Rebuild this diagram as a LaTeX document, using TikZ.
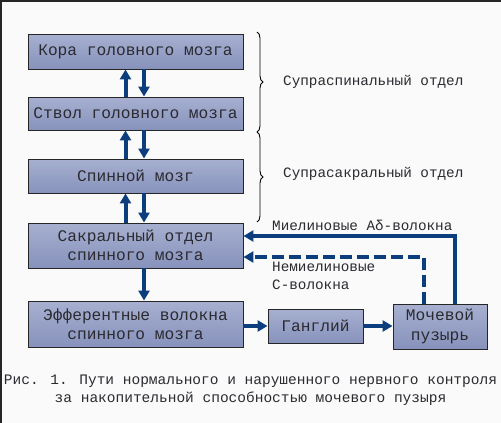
\documentclass[tikz,border=0pt]{standalone}
\usepackage{fontspec}
\setmainfont{Liberation Mono}
\usetikzlibrary{arrows.meta,decorations.pathreplacing}
\definecolor{boxtop}{HTML}{A7B0D0}
\definecolor{boxmid}{HTML}{D8DBE9}
\definecolor{boxbot}{HTML}{8792BC}
\definecolor{arrblue}{HTML}{0C3E7E}
\definecolor{txtgray}{HTML}{2A2A30}
\tikzset{
  blok/.style={draw=black!85, line width=0.9pt, top color=boxtop, middle color=boxmid,
    bottom color=boxbot, inner sep=0pt, align=center, text=txtgray,
    font=\fontsize{16.2}{19.5}\selectfont},
  strelka/.style={draw=arrblue, line width=4pt, -{Triangle[width=11pt,length=10pt]}},
  podpis/.style={text=txtgray, font=\fontsize{14.3}{18}\selectfont, inner sep=0pt},
}
\begin{document}
\begin{tikzpicture}[x=1pt, y=-1pt]
        % Фон и рамка
        \useasboundingbox (0,0) rectangle (501,423);
        \fill[white!98!black] (0,0) rectangle (501,423);
        \draw[line width=1.5pt, black!85] (0.75,423) -- (0.75,0.75) -- (501,0.75);

        % Блоки левой колонки
        \node[blok, minimum width=215pt, minimum height=35pt] (kora) at (135.5,51.5) {Кора головного мозга};
        \node[blok, minimum width=215pt, minimum height=33pt] (stvol) at (135.5,113.5) {Ствол головного мозга};
        \node[blok, minimum width=215pt, minimum height=34pt] (spin) at (135.5,176) {Спинной мозг};
        \node[blok, minimum width=215pt, minimum height=45pt] (sakr) at (135.5,245.5) {Сакральный отдел\\спинного мозга};
        \node[blok, minimum width=215pt, minimum height=46pt] (eff) at (135.5,324) {Эфферентные волокна\\спинного мозга};

        % Ганглий и мочевой пузырь
        \node[blok, minimum width=95pt, minimum height=34pt] (gangl) at (315.5,326) {Ганглий};
        \node[blok, minimum width=94pt, minimum height=45pt] (puz) at (440,326.5) {Мочевой\\пузырь};

        % Восходящие и нисходящие пути
        \draw[strelka] ([xshift=-10pt]stvol.north) -- ([xshift=-10pt]kora.south);
        \draw[strelka] ([xshift=8.5pt]kora.south) -- ([xshift=8.5pt]stvol.north);
        \draw[strelka] ([xshift=-10pt]spin.north) -- ([xshift=-10pt]stvol.south);
        \draw[strelka] ([xshift=8.5pt]stvol.south) -- ([xshift=8.5pt]spin.north);
        \draw[strelka] ([xshift=-10pt]sakr.north) -- ([xshift=-10pt]spin.south);
        \draw[strelka] ([xshift=8.5pt]spin.south) -- ([xshift=8.5pt]sakr.north);
        \draw[strelka] ([xshift=8.5pt]sakr.south) -- ([xshift=8.5pt]eff.north);
        \draw[strelka] (eff.east |- gangl) -- (gangl.west);
        \draw[strelka] (gangl.east) -- (puz.west |- gangl);

        % Афферентные волокна от пузыря
        \draw[strelka] ([xshift=15pt]puz.north) |- ([yshift=9.5pt]sakr.east);
        \draw[strelka, dash pattern=on 12pt off 5pt] ([xshift=-16pt]puz.north) |- ([yshift=-11.5pt]sakr.east);
        \node[podpis, anchor=west] (mielin) at (272,225) {Миелиновые Aδ-волокна};
        \node[podpis, anchor=west, align=left] (nemielin) at (272,276) {Немиелиновые\\С-волокна};

        % Фигурные скобки
        \draw[decorate, decoration={brace, amplitude=6pt}, line width=0.9pt] (257,32) -- (257,132);
        \draw[decorate, decoration={brace, amplitude=6pt}, line width=0.9pt] (257,132) -- (257,222);
        \node[podpis, anchor=west] (supsp) at (283,82) {Супраспинальный отдел};
        \node[podpis, anchor=west] (supsak) at (283,174) {Супрасакральный отдел};

        % Подпись к рисунку
        \node[podpis, align=center, font=\fontsize{14.5}{18}\selectfont] (risunok) at (250.5,390)
          {Рис. 1. Пути нормального и нарушенного нервного контроля\\за накопительной способностью мочевого пузыря};
\end{tikzpicture}
\end{document}
